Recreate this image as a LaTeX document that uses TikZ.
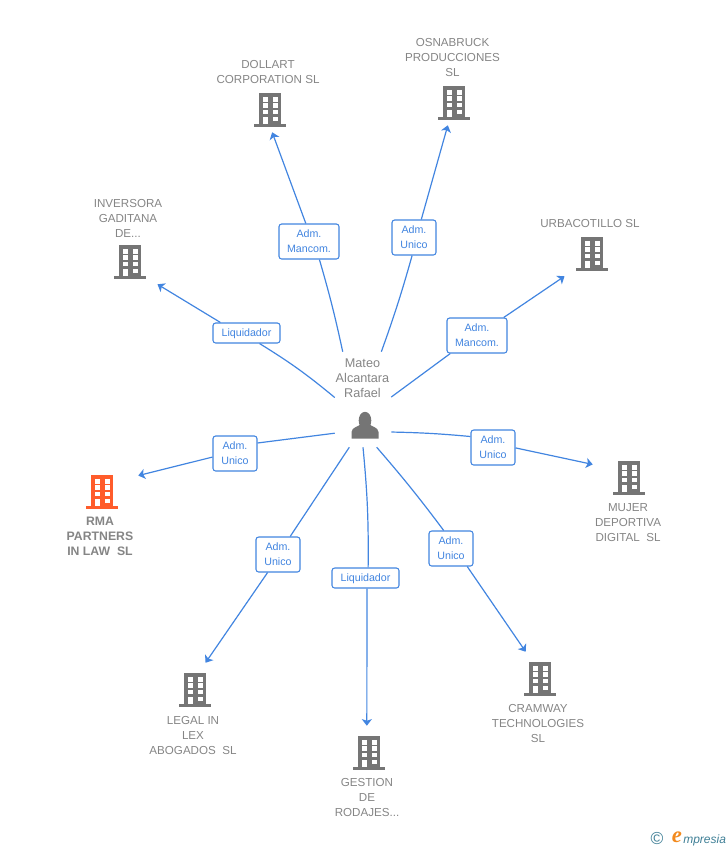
\documentclass[tikz,border=0pt]{standalone}
\usepackage{fontspec}
\setmainfont{Liberation Sans}
\newfontfamily\logofont{Liberation Serif}
\usetikzlibrary{arrows.meta,calc,positioning}

\definecolor{linkblue}{HTML}{4285E0}
\definecolor{iconGray}{HTML}{757575}
\definecolor{textGray}{HTML}{858585}
\definecolor{rmaOrange}{HTML}{FF5C2B}
\definecolor{logoTeal}{HTML}{3F7F96}
\definecolor{logoOrange}{HTML}{F28A1E}

\tikzset{
	link/.style={draw=linkblue,line width=0.9pt},
	linkto/.style={link,-{Stealth[length=5pt,width=7.6pt,inset=1.3pt]}},
	role/.style={draw=linkblue,fill=white,rounded corners=2pt,line width=0.8pt,text=linkblue,
		font=\fontsize{8}{11.25}\selectfont,align=center,inner sep=0pt,minimum width=#1*0.75pt},
	twolines/.style={minimum height=26.25pt},
	oneline/.style={minimum height=15pt,text depth=0pt},
	anchorbox/.style={inner sep=0pt,minimum width=54pt,minimum height=36.75pt},
	firm/.style={text=textGray,font=\fontsize{8.7}{11.25}\selectfont,align=center,inner sep=0pt},
	building/.pic={
		\fill[#1] (-11,-14.8) rectangle (11,17);
		\fill[#1] (-16,16.5) rectangle (16,19.5);
		\foreach \y in {-10.2,-4.2,2.5,9.2} {
			\fill[white] (-7.5,\y) rectangle (-2.5,\y+4.3);
			\fill[white] (2.5,\y) rectangle (7.5,\y+4.3);
		}
		\fill[white] (-7.5,9.2) rectangle (-2.5,16.5);
	}
}

\begin{document}
\begin{tikzpicture}[x=0.75pt,y=-0.75pt]
	\useasboundingbox (0,0) rectangle (728,850);

	% Companies
	\node[anchorbox] (dollart) at (270,107.5) {};
	\node[anchorbox] (osnabruck) at (454,100.5) {};
	\node[anchorbox] (urbacotillo) at (592,251.5) {};
	\node[anchorbox] (inversora) at (130,259.5) {};
	\node[anchorbox] (rma) at (102,489.5) {};
	\node[anchorbox] (mujer) at (629,475.5) {};
	\node[anchorbox] (legal) at (195,687.5) {};
	\node[anchorbox] (gestion) at (369,750.5) {};
	\node[anchorbox] (cramway) at (540,676.5) {};

	\pic at (dollart) {building=iconGray};
	\pic at (osnabruck) {building=iconGray};
	\pic at (urbacotillo) {building=iconGray};
	\pic at (inversora) {building=iconGray};
	\pic at (rma) {building=rmaOrange};
	\pic at (mujer) {building=iconGray};
	\pic at (legal) {building=iconGray};
	\pic at (gestion) {building=iconGray};
	\pic at (cramway) {building=iconGray};

	% Company names
	\node[firm] (dollartname) at (268,72.5) {DOLLART\\CORPORATION SL};
	\node[firm] (osnabruckname) at (452.5,58) {OSNABRUCK\\PRODUCCIONES\\SL};
	\node[firm] (urbacotilloname) at (590,223.5) {URBACOTILLO SL};
	\node[firm] (inversoraname) at (128,218) {INVERSORA\\GADITANA\\DE...};
	\node[firm,font=\fontsize{9.2}{11.25}\selectfont\bfseries] (rmaname) at (100,536.5) {RMA\\PARTNERS\\IN LAW\ \ SL};
	\node[firm] (mujername) at (628,522.5) {MUJER\\DEPORTIVA\\DIGITAL\ \ SL};
	\node[firm] (legalname) at (193,735.5) {LEGAL IN\\LEX\\ABOGADOS\ \ SL};
	\node[firm] (gestionname) at (367,797.5) {GESTION\\DE\\RODAJES...};
	\node[firm] (cramwayname) at (538,723.5) {CRAMWAY\\TECHNOLOGIES\\SL};

	% Person
	\node[inner sep=0pt,minimum width=42pt,minimum height=71.25pt] (mateo) at (363,399.5) {};
	\fill[iconGray] (351.5,438.5) -- (351.5,432) .. controls (352,427) and (358,427) .. (361,424)
		-- (369,424) .. controls (372,427) and (378,427) .. (378.5,432) -- (378.5,438.5) -- cycle;
	\fill[iconGray] (365,420.5) ellipse (6.3 and 8.7);
	\node[firm,font=\fontsize{9.5}{11.25}\selectfont] (mateoname) at (362.5,378.5) {Mateo\\Alcantara\\Rafael};

	% Roles
	\node[role=60,twolines] (roledollart) at (309,241.5) {Adm.~\\Mancom.};
	\node[role=44,twolines] (roleosnabruck) at (414,237.5) {Adm.~\\Unico};
	\node[role=60,twolines] (roleurbacotillo) at (477,335.5) {Adm.~\\Mancom.};
	\node[role=67,oneline] (roleinversora) at (246.5,333) {Liquidador};
	\node[role=44,twolines] (rolerma) at (235,453.5) {Adm.~\\Unico};
	\node[role=44,twolines] (rolemujer) at (493,447.5) {Adm.~\\Unico};
	\node[role=44,twolines] (rolelegal) at (278,554.5) {Adm.~\\Unico};
	\node[role=67,oneline] (rolegestion) at (365.5,578) {Liquidador};
	\node[role=44,twolines] (rolecramway) at (451,548.5) {Adm.~\\Unico};

	% Links
	\draw[link] (mateo.113) to[bend right=2] (roledollart.-60);
	\draw[linkto] (roledollart.100) -- (dollart.-85);
	\draw[link] (mateo.69) to[bend right=2] (roleosnabruck.-96);
	\draw[linkto] (roleosnabruck.68) -- (osnabruck.-104);
	\draw[link] (mateo.5) -- (roleurbacotillo.214);
	\draw[linkto] (roleurbacotillo.34) -- (urbacotillo.222);
	\draw[link] (mateo.176) to[bend right=4] (roleinversora.-39);
	\draw[linkto] (roleinversora.158) -- (inversora.-42);
	\draw[link] (mateo.230) -- (rolerma.25);
	\draw[linkto] (rolerma.189) -- (rma.21);
	\draw[link] (mateo.-49) to[bend left=2] (rolemujer.154);
	\draw[linkto] (rolemujer.-1) -- (mujer.163);
	\draw[link] (mateo.-106) -- (rolelegal.56);
	\draw[linkto] (rolelegal.240) -- (legal.67);
	\draw[link] (mateo.-90) to[bend left=3] (rolegestion.76);
	\draw[linkto] (rolegestion.-82) -- (gestion.95);
	\draw[link] (mateo.-74) to[bend left=2] (rolecramway.112);
	\draw[linkto] (rolecramway.-48) -- (cramway.120);

	% Logo
	\node[text=logoTeal,font=\fontsize{13}{13}\selectfont,inner sep=0pt] (logoc) at (657,839) {©};
	\node[text=logoOrange,font=\logofont\fontsize{17}{17}\selectfont\itshape\bfseries,inner sep=0pt] (logoe) at (677,837.5) {e};
	\node[text=logoTeal,font=\fontsize{9}{9}\selectfont\itshape,inner sep=0pt,anchor=west] (logotext) at (683,840.5) {mpresia};
\end{tikzpicture}
\end{document}
